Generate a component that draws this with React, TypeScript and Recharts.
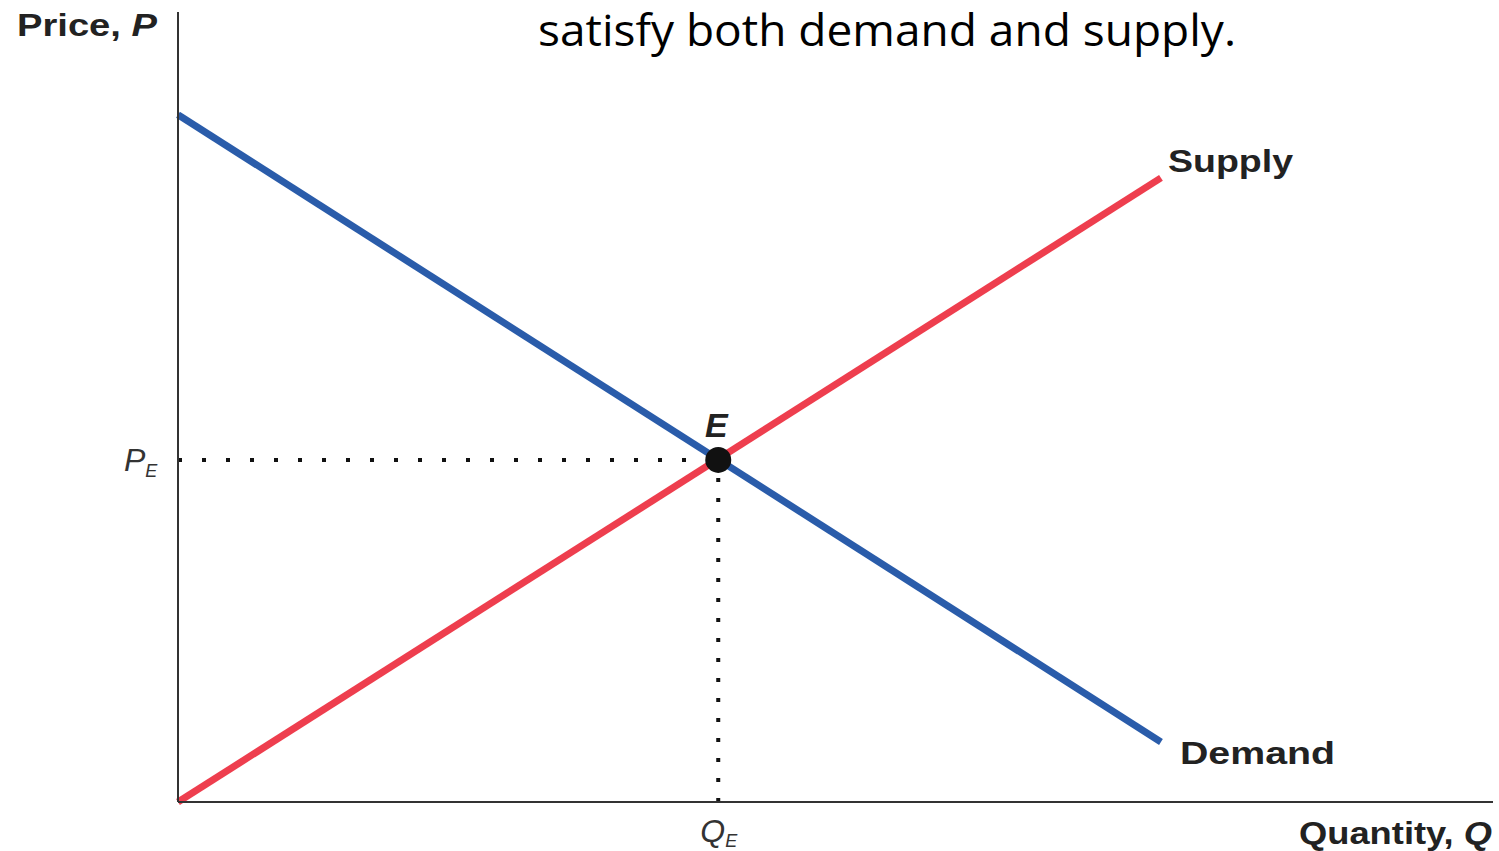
import React from 'react';
import { LineChart, Line, XAxis, YAxis, ReferenceLine, ReferenceDot } from 'recharts';

// quantity endpoints of the two curves
const quantities = [0, 8.97];
const demandPrices = [8.7, 0.76];
const supplyPrices = [0, 7.9];

// equilibrium point E
const eqQuantity = [4.93];
const eqPrice = [4.33];

const curveData = quantities.map((q, i) => ({ q, demand: demandPrices[i], supply: supplyPrices[i] }));

const BLUE = '#2a5caa';
const RED = '#ee3e4e';
const INK = '#222';

const PriceTick = (props: any) => {
  const { x, y } = props;
  return (
    <text x={x - 54} y={y + 11} fontFamily="'Liberation Sans', Arial, sans-serif" fontStyle="italic" fill="#333">
      <tspan fontSize={32}>P</tspan>
      <tspan fontSize={18} dy={6}>E</tspan>
    </text>
  );
};

const QuantityTick = (props: any) => {
  const { x, y } = props;
  return (
    <text x={x - 18} y={y + 40} fontFamily="'Liberation Sans', Arial, sans-serif" fontStyle="italic" fill="#333">
      <tspan fontSize={32}>Q</tspan>
      <tspan fontSize={18} dy={5}>E</tspan>
    </text>
  );
};

const boldFont = "'Liberation Sans', Arial, Helvetica, sans-serif";

export default function App() {
  return (
    <div style={{ position: 'absolute', left: 0, top: 0, width: 1499, height: 851, background: '#fff' }}>
      <LineChart
        width={1499}
        height={851}
        data={curveData}
        margin={{ top: 12, right: 6, left: 0, bottom: 0 }}
      >
        <XAxis
          type="number"
          dataKey="q"
          domain={[0, 12]}
          ticks={eqQuantity}
          tick={<QuantityTick />}
          tickLine={false}
          tickSize={0}
          tickMargin={0}
          height={49}
          axisLine={{ stroke: '#333', strokeWidth: 2 }}
        />
        <YAxis
          type="number"
          domain={[0, 10]}
          ticks={eqPrice}
          tick={<PriceTick />}
          tickLine={false}
          tickSize={0}
          tickMargin={0}
          width={178}
          axisLine={{ stroke: '#333', strokeWidth: 2 }}
        />
        <ReferenceLine
          segment={[{ x: 0, y: eqPrice[0] }, { x: eqQuantity[0], y: eqPrice[0] }]}
          stroke="#111"
          strokeWidth={4}
          strokeDasharray="4 20"
        />
        <ReferenceLine
          segment={[{ x: eqQuantity[0], y: 0 }, { x: eqQuantity[0], y: eqPrice[0] }]}
          stroke="#111"
          strokeWidth={4}
          strokeDasharray="4 16"
        />
        <Line dataKey="demand" stroke={BLUE} strokeWidth={7} dot={false} isAnimationActive={false} />
        <Line dataKey="supply" stroke={RED} strokeWidth={7} dot={false} isAnimationActive={false} />
        <ReferenceDot x={eqQuantity[0]} y={eqPrice[0]} r={13} fill="#111" stroke="none" />
      </LineChart>
      <svg width={1499} height={851} style={{ position: 'absolute', left: 0, top: 0, pointerEvents: 'none' }}>
        <text x={538} y={46} fontFamily="'Open Sans', 'Noto Sans', sans-serif" fontSize={44} fill="#000" textLength={698} lengthAdjust="spacingAndGlyphs">
          satisfy both demand and supply.
        </text>
        <text x={17} y={36} fontFamily={boldFont} fontWeight="bold" fontSize={31} fill={INK} textLength={140} lengthAdjust="spacingAndGlyphs">
          Price, <tspan fontStyle="italic">P</tspan>
        </text>
        <text x={1168} y={172} fontFamily={boldFont} fontWeight="bold" fontSize={31} fill={INK} textLength={125} lengthAdjust="spacingAndGlyphs">
          Supply
        </text>
        <text x={1180} y={764} fontFamily={boldFont} fontWeight="bold" fontSize={31} fill={INK} textLength={155} lengthAdjust="spacingAndGlyphs">
          Demand
        </text>
        <text x={1299} y={844} fontFamily={boldFont} fontWeight="bold" fontSize={31} fill={INK} textLength={193} lengthAdjust="spacingAndGlyphs">
          Quantity, <tspan fontStyle="italic">Q</tspan>
        </text>
        <text x={705} y={437} fontFamily={boldFont} fontWeight="bold" fontStyle="italic" fontSize={34} fill={INK}>
          E
        </text>
      </svg>
    </div>
  );
}
